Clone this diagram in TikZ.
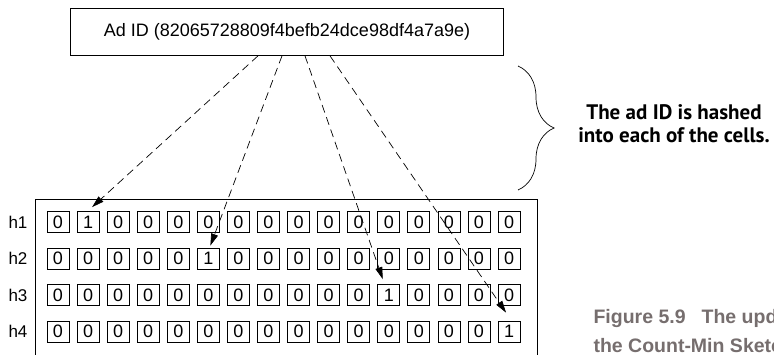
\documentclass[tikz,border=0pt]{standalone}
\usepackage{fontspec}
\setmainfont{Liberation Sans}
\newfontfamily\notefont{PT Sans}
\definecolor{capgray}{RGB}{118,110,110}
\usetikzlibrary{arrows.meta,positioning,calc,decorations.pathreplacing}

\tikzset{
  cellbox/.style={draw, line width=0.7pt, minimum width=22pt, minimum height=21pt, inner sep=0pt, font=\fontsize{18}{18}\selectfont},
  rowlabel/.style={font=\fontsize{17}{17}\selectfont},
  hasharrow/.style={line width=0.7pt, dash pattern=on 8pt off 5pt, -{Triangle[length=12pt,width=7pt]}},
}

\begin{document}
\begin{tikzpicture}[x=1pt,y=-1pt]
\useasboundingbox (0,0) rectangle (774,354);
\clip (0,0) rectangle (774,354);
\node[draw, line width=0.7pt, minimum width=433pt, minimum height=47pt, font=\fontsize{18}{18}\selectfont] (adid) at (287,32) {Ad ID (82065728809f4befb24dce98df4a7a9e)};
\node[draw, line width=0.7pt, anchor=north west, minimum width=502pt, minimum height=190pt] (sketch) at (35,199) {};
% rows of counters
\foreach \r/\hot in {1/2,2/6,3/12,4/16} {
  \node[rowlabel] (h\r) at (18,{222+36.5*(\r-1)}) {h\r};
  \foreach \c in {1,...,16} {
    \pgfmathtruncatemacro\v{\c==\hot}
    \node[cellbox] (c\r-\c) at ({58+30.07*(\c-1)},{222+36.5*(\r-1)}) {\v};
  }
}
\draw[hasharrow] ($(adid.south)+(-29,0)$) -- ($(c1-2.north)+(4,-4)$);
\draw[hasharrow] ($(adid.south)+(-5,0)$) -- ($(c2-6.north)+(2,-2)$);
\draw[hasharrow] ($(adid.south)+(18,0)$) -- ($(c3-12.north)+(-6,-5)$);
\draw[hasharrow] ($(adid.south)+(43,0)$) -- ($(c4-16.north)+(-3,-8)$);
% brace and note
\draw[line width=0.7pt, decorate, decoration={brace, amplitude=36pt}] (518,66) -- (518,190);
\node[font=\notefont\bfseries\fontsize{21}{23}\selectfont, align=center] (note) at (674,124) {The ad ID is hashed\\into each of the cells.};
\node[anchor=west, align=left, text=capgray, font=\bfseries\fontsize{19.5}{29}\selectfont] (caption) at (590,331) {Figure 5.9\hspace{16pt}The update\\the Count-Min Sketch};
\end{tikzpicture}
\end{document}
